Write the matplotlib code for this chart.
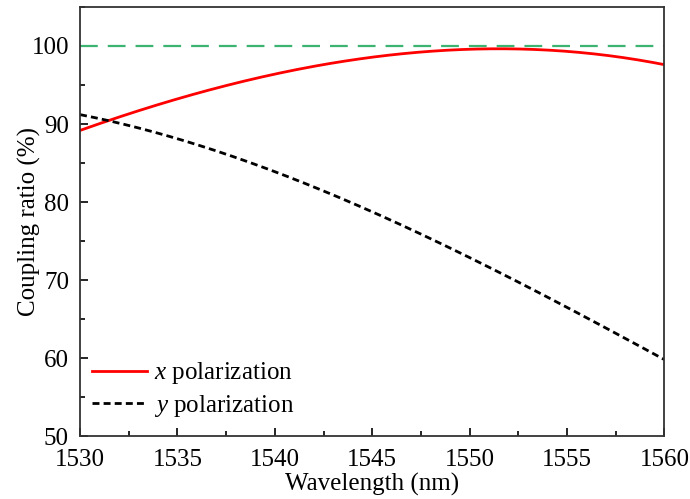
import numpy as np
from matplotlib import pyplot as plt
from matplotlib.ticker import MultipleLocator

plt.rcParams['font.family'] = ['Liberation Serif', 'DejaVu Serif']
plt.rcParams['mathtext.fontset'] = 'custom'
plt.rcParams['mathtext.it'] = 'Liberation Serif:italic'
plt.rcParams['mathtext.rm'] = 'Liberation Serif'

wl = [1530, 1532.5, 1535, 1537.5, 1540, 1542.5, 1545, 1547.5, 1550, 1552.5, 1555, 1557.5, 1560]
x_pol = [89.0, 91.4, 93.5, 95.0, 96.2, 97.5, 98.5, 99.2, 99.6, 99.7, 99.4, 98.7, 97.5]
y_pol = [91.3, 89.8, 88.0, 86.0, 83.9, 81.5, 78.8, 76.0, 73.0, 69.7, 66.3, 63.0, 60.0]
ref = 100

fig, ax = plt.subplots(figsize=(6.9, 4.99), dpi=100)
fig.subplots_adjust(left=0.116, right=0.963, top=0.986, bottom=0.126)

# smooth the sampled curves a bit
xs = np.linspace(1530, 1560, 200)
cx = np.polyfit(wl, x_pol, 3)
cy = np.polyfit(wl, y_pol, 3)

ax.axhline(ref, color='#3cb371', ls=(0, (8, 4.5)), lw=1.6)
ax.plot(xs, np.polyval(cx, xs), color='#ff0000', lw=2, label='$x$ polarization')
ax.plot(xs, np.polyval(cy, xs), color='black', lw=2, ls=(0, (2.5, 1.5)), label='$y$ polarization')

ax.set_xlim(1530, 1560)
ax.set_ylim(50, 105)
ax.xaxis.set_major_locator(MultipleLocator(5))
ax.xaxis.set_minor_locator(MultipleLocator(2.5))
ax.yaxis.set_major_locator(MultipleLocator(10))
ax.yaxis.set_minor_locator(MultipleLocator(5))
ax.tick_params(which='both', direction='in', labelsize=18, width=1.2)
ax.tick_params(which='major', length=6)
ax.tick_params(which='minor', length=3.5)
ax.tick_params(axis='x', pad=9)
ax.tick_params(axis='y', pad=8)
for s in ax.spines.values():
    s.set_linewidth(1.3)
    s.set_color('#333333')

ax.set_xlabel('Wavelength (nm)', fontsize=18, labelpad=2)
ax.set_ylabel('Coupling ratio (%)', fontsize=18, labelpad=-7)

ax.legend(loc='lower left', bbox_to_anchor=(-0.01, 0.0), frameon=False, fontsize=18,
          handlelength=2.2, handletextpad=0.3, labelspacing=0.25, borderaxespad=0.3)

plt.savefig('out.png')
